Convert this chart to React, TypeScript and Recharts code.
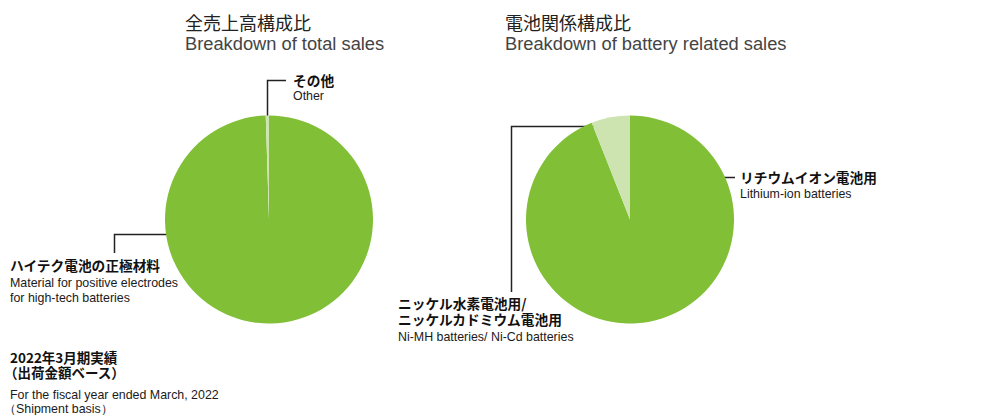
import React from 'react';
import { PieChart, Pie, Cell, Customized } from 'recharts';

const totalCategories = ['ハイテク電池の正極材料', 'その他'];
const totalValues = [99.5, 0.5];
const batteryCategories = ['リチウムイオン電池用', 'ニッケル水素電池用/ニッケルカドミウム電池用'];
const batteryValues = [94, 6];

const GREEN = '#80bf36';
const LIGHT = '#cde4b0';
const JP = '"Noto Sans CJK JP", sans-serif';
const EN = '"Liberation Sans", Arial, sans-serif';

const totalData = totalCategories.map((name, i) => ({ name, value: totalValues[i] }));
const batteryData = batteryCategories.map((name, i) => ({ name, value: batteryValues[i] }));

const jpStyle = { fontFamily: JP, fontWeight: 700, fontSize: 13.7, fill: '#111' } as const;
const enStyle = { fontFamily: EN, fontSize: 12.4, fill: '#1a1a1a' } as const;
const titleJp = { fontFamily: JP, fontSize: 18, fill: '#222', fontWeight: 400 } as const;
const titleEn = { fontFamily: EN, fontSize: 18.3, fill: '#444', fontWeight: 400 } as const;
const LINE = '#222';

function Annotations() {
  return (
    <g>
      {/* titles */}
      <text x={185} y={29.5} style={titleJp}>全売上高構成比</text>
      <text x={185} y={50} style={titleEn}>Breakdown of total sales</text>
      <text x={505} y={29.5} style={titleJp}>電池関係構成比</text>
      <text x={505} y={50} style={titleEn}>Breakdown of battery related sales</text>

      {/* Other */}
      <polyline points="286,80.5 267.5,80.5 267.5,121" fill="none" stroke={LINE} strokeWidth={1.5} />
      <text x={293} y={85.5} style={jpStyle}>その他</text>
      <text x={293} y={100} style={enStyle}>Other</text>

      {/* main left */}
      <polyline points="197,234.5 114.5,234.5 114.5,253" fill="none" stroke={LINE} strokeWidth={1.5} />
      <text x={10} y={271} style={jpStyle}>ハイテク電池の正極材料</text>
      <text x={10} y={286.5} style={enStyle}>Material for positive electrodes</text>
      <text x={10} y={301.5} style={enStyle}>for high-tech batteries</text>

      {/* footnote */}
      <text x={10} y={363} style={{ ...jpStyle, fontSize: 13.5 }}>2022年3月期実績</text>
      <text x={4} y={377.5} style={{ ...jpStyle, fontSize: 13.5 }}>（出荷金額ベース）</text>
      <text x={10} y={398.5} style={enStyle}>For the fiscal year ended March, 2022</text>
      <text x={4} y={413} style={enStyle}>（Shipment basis）</text>

      {/* NiMH */}
      <polyline points="605,126.5 511.5,126.5 511.5,292" fill="none" stroke={LINE} strokeWidth={1.5} />
      <text x={398} y={309} style={jpStyle}>ニッケル水素電池用/</text>
      <text x={398} y={324.5} style={jpStyle}>ニッケルカドミウム電池用</text>
      <text x={398} y={340.5} style={enStyle}>Ni-MH batteries/ Ni-Cd batteries</text>

      {/* Lithium */}
      <line x1={691} y1={177.5} x2={735} y2={177.5} stroke={LINE} strokeWidth={1.5} />
      <text x={740} y={183} style={jpStyle}>リチウムイオン電池用</text>
      <text x={740} y={197.5} style={enStyle}>Lithium-ion batteries</text>
    </g>
  );
}

export default function App() {
  return (
    <div style={{ position: 'absolute', left: 0, top: 0, width: 998, height: 415, background: '#fff' }}>
      <PieChart width={998} height={415} margin={{ top: 0, right: 0, bottom: 0, left: 0 }}>
        <Pie
          data={totalData}
          dataKey="value"
          nameKey="name"
          cx={269}
          cy={219.5}
          outerRadius={104}
          startAngle={90}
          endAngle={-270}
          stroke="none"
          isAnimationActive={false}
        >
          {totalData.map((d, i) => (
            <Cell key={d.name} fill={i === 0 ? GREEN : LIGHT} />
          ))}
        </Pie>
        <Pie
          data={batteryData}
          dataKey="value"
          nameKey="name"
          cx={630}
          cy={219.5}
          outerRadius={104}
          startAngle={90}
          endAngle={-270}
          stroke="none"
          isAnimationActive={false}
        >
          {batteryData.map((d, i) => (
            <Cell key={d.name} fill={i === 0 ? GREEN : LIGHT} />
          ))}
        </Pie>
        <Customized component={Annotations} />
      </PieChart>
    </div>
  );
}
